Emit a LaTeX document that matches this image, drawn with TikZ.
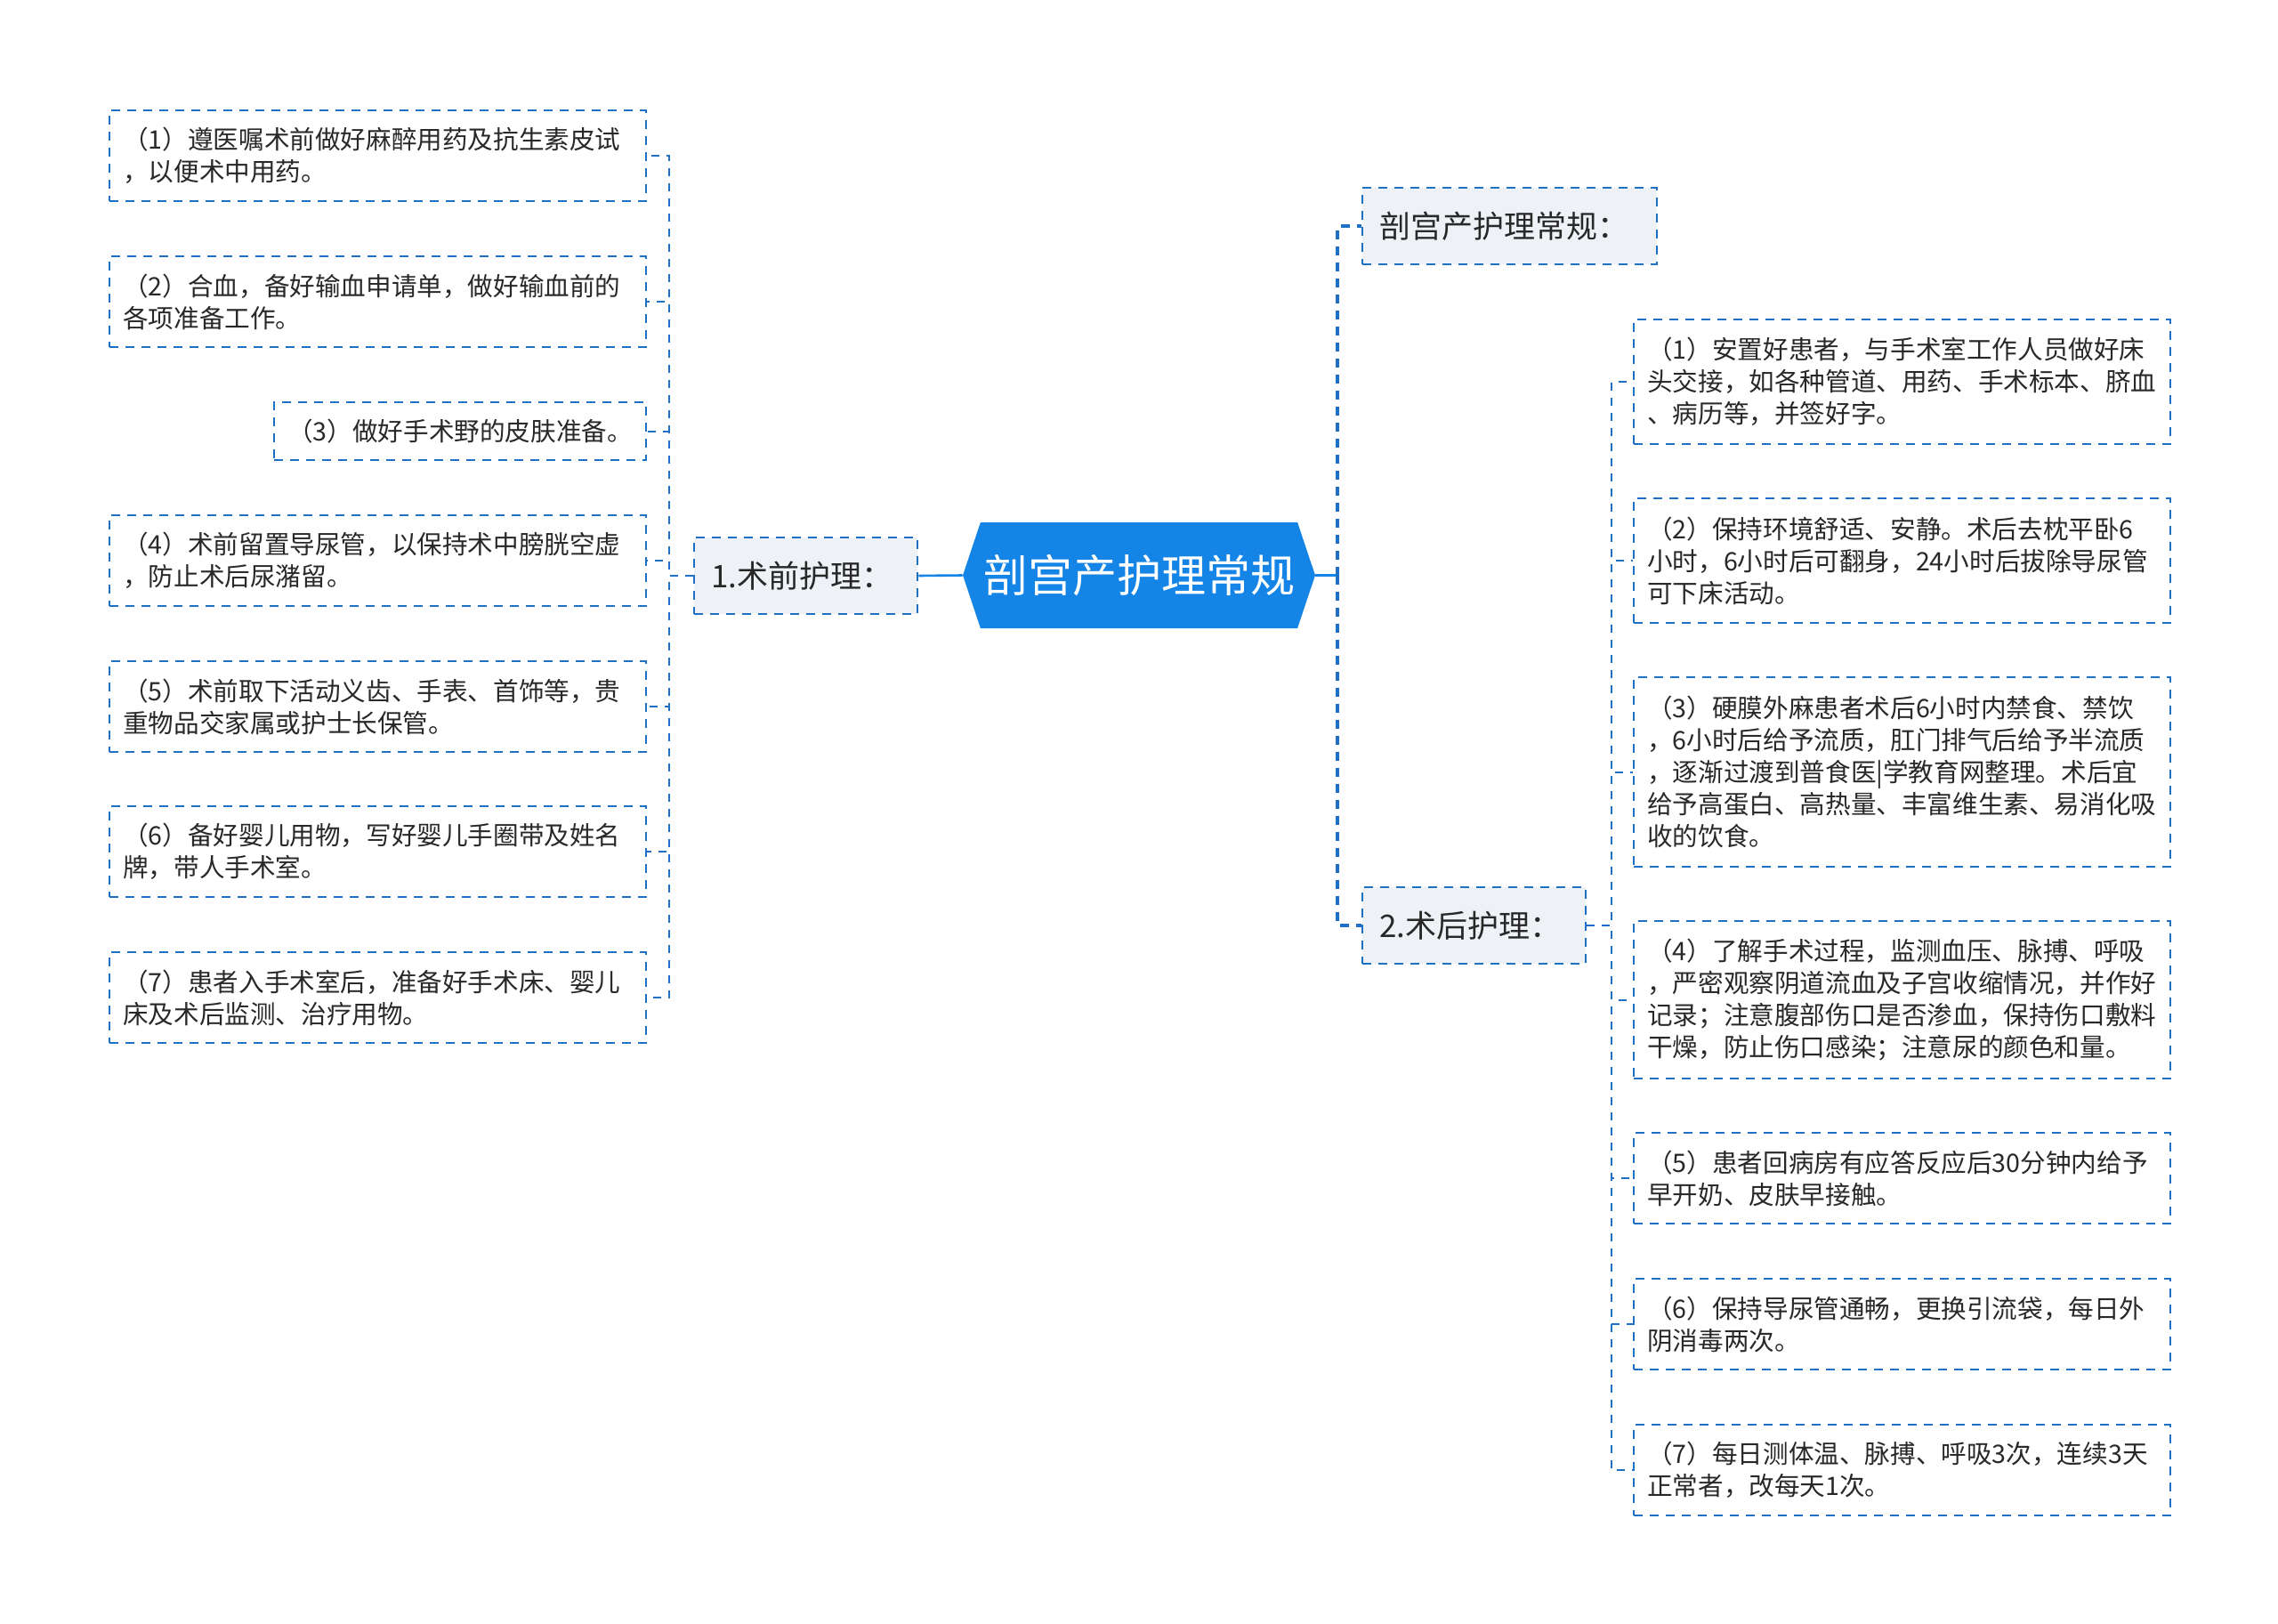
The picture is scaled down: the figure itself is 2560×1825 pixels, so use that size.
\documentclass[tikz,border=0pt]{standalone}
\usepackage{fontspec}
\setmainfont{Noto Sans CJK SC}
\usetikzlibrary{shapes.symbols, positioning}
\definecolor{lineB}{RGB}{30,112,196}
\definecolor{rootB}{RGB}{20,132,230}
\definecolor{boxG}{RGB}{238,241,245}
\definecolor{textD}{RGB}{40,40,40}
\newcommand\leafFont{\fontsize{14.3pt}{18pt}\selectfont}
\newcommand\topFont{\fontsize{17.5pt}{21pt}\selectfont}
\newcommand\rootFont{\fontsize{25pt}{30pt}\selectfont}
\tikzstyle{rootNode} = [signal, signal to=west and east, signal pointer angle=143, fill=rootB, text=white, font=\rootFont, minimum width=198pt, minimum height=59.5pt, inner sep=0pt]
\tikzstyle{topNode} = [rectangle, draw=lineB, line width=1.2pt, dash pattern=on 5pt off 4pt, fill=boxG, text=textD, font=\topFont, align=left, inner xsep=9.5pt, minimum height=43pt, anchor=west]
\tikzstyle{leafNode} = [rectangle, draw=lineB, line width=1.2pt, dash pattern=on 5pt off 4pt, fill=white, text=textD, font=\leafFont, align=left, text width=286.5pt, inner xsep=7.5pt, anchor=north west]
\tikzstyle{lineMain} = [draw=rootB, line width=1.3pt]
\tikzstyle{linkB} = [draw=lineB, line width=1pt, dash pattern=on 4.5pt off 4pt]
\tikzstyle{linkThick} = [draw=lineB, line width=2pt, dash pattern=on 5pt off 4pt]

\begin{document}
\begin{tikzpicture}[x=0.5pt, y=-0.5pt]
    \useasboundingbox (0,0) rectangle (2560,1825);
    \node (root) [rootNode] at (1280,646.5) {剖宫产护理常规};
    \node (pre) [topNode, text width=106.5pt] at (779,647) {1.术前护理：};
    \node (title) [topNode, text width=146.5pt] at (1530,254) {剖宫产护理常规：};
    \node (post) [topNode, text width=106.5pt] at (1530,1040) {2.术后护理：};

    \node (l1) [leafNode, minimum height=51pt] at (122,123) {（1）遵医嘱术前做好麻醉用药及抗生素皮试\\，以便术中用药。};
    \node (l2) [leafNode, minimum height=51pt] at (122,287) {（2）合血，备好输血申请单，做好输血前的\\各项准备工作。};
    \node (l3) [leafNode, minimum height=32.5pt, text width=194pt] at (307,451) {（3）做好手术野的皮肤准备。};
    \node (l4) [leafNode, minimum height=51pt] at (122,578) {（4）术前留置导尿管，以保持术中膀胱空虚\\，防止术后尿潴留。};
    \node (l5) [leafNode, minimum height=51pt] at (122,742) {（5）术前取下活动义齿、手表、首饰等，贵\\重物品交家属或护士长保管。};
    \node (l6) [leafNode, minimum height=51pt] at (122,905) {（6）备好婴儿用物，写好婴儿手圈带及姓名\\牌，带人手术室。};
    \node (l7) [leafNode, minimum height=51pt] at (122,1069) {（7）患者入手术室后，准备好手术床、婴儿\\床及术后监测、治疗用物。};

    \node (r1) [leafNode, minimum height=70pt] at (1835,358) {（1）安置好患者，与手术室工作人员做好床\\头交接，如各种管道、用药、手术标本、脐血\\、病历等，并签好字。};
    \node (r2) [leafNode, minimum height=70pt] at (1835,559) {（2）保持环境舒适、安静。术后去枕平卧6\\小时，6小时后可翻身，24小时后拔除导尿管\\可下床活动。};
    \node (r3) [leafNode, minimum height=106.5pt] at (1835,760) {（3）硬膜外麻患者术后6小时内禁食、禁饮\\，6小时后给予流质，肛门排气后给予半流质\\，逐渐过渡到普食医|学教育网整理。术后宜\\给予高蛋白、高热量、丰富维生素、易消化吸\\收的饮食。};
    \node (r4) [leafNode, minimum height=88.5pt] at (1835,1034) {（4）了解手术过程，监测血压、脉搏、呼吸\\，严密观察阴道流血及子宫收缩情况，并作好\\记录；注意腹部伤口是否渗血，保持伤口敷料\\干燥，防止伤口感染；注意尿的颜色和量。};
    \node (r5) [leafNode, minimum height=51pt] at (1835,1272) {（5）患者回病房有应答反应后30分钟内给予\\早开奶、皮肤早接触。};
    \node (r6) [leafNode, minimum height=51pt] at (1835,1436) {（6）保持导尿管通畅，更换引流袋，每日外\\阴消毒两次。};
    \node (r7) [leafNode, minimum height=51pt] at (1835,1600) {（7）每日测体温、脉搏、呼吸3次，连续3天\\正常者，改每天1次。};

    \coordinate (hubR) at (1503,646.5);
    \draw [lineMain] (root.west) -- (pre.east);
    \draw [lineMain] (root.east) -- (hubR);
    \draw [linkThick] (hubR) |- (title.west);
    \draw [linkThick] (hubR) |- (post.west);
    \foreach \i in {1,...,7} {
        \draw [linkB] (pre.west) -- ++(-27,0) |- (l\i.east);
        \draw [linkB] (post.east) -- ++(28,0) |- (r\i.west);
    }
\end{tikzpicture}
\end{document}
